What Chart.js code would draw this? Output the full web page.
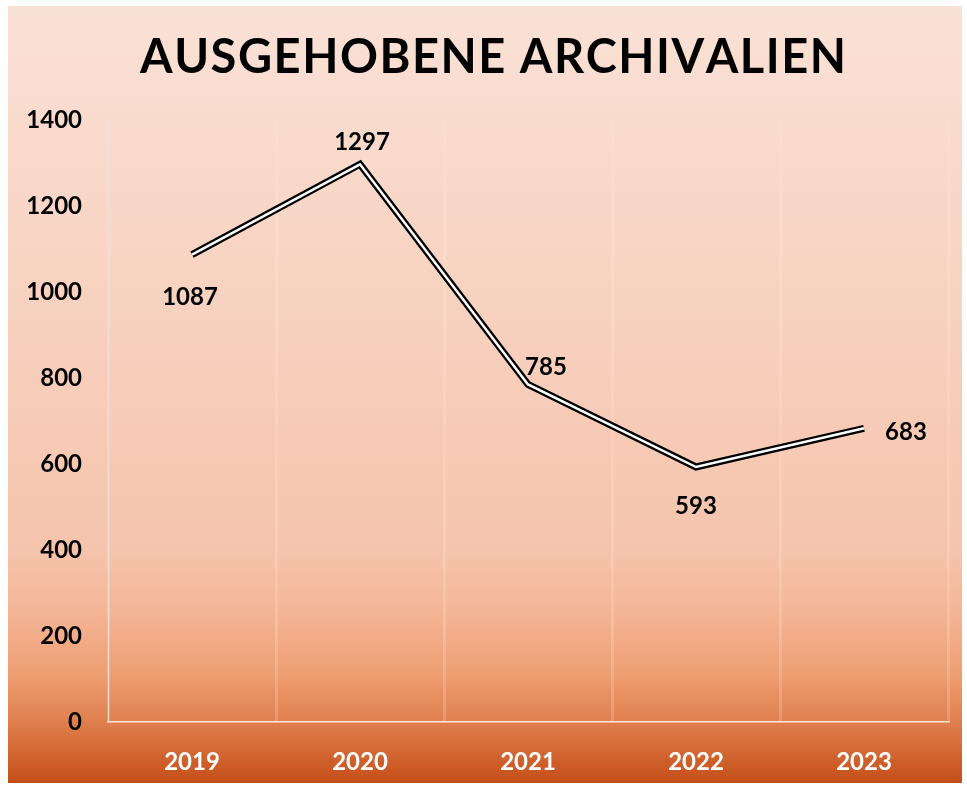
<!DOCTYPE html>
<html>
<head>
<meta charset="utf-8">
<script src="https://cdn.jsdelivr.net/npm/chart.js@4"></script>
<style>
  html, body { margin: 0; padding: 0; background: #ffffff; }
  #wrap { width: 967px; height: 788px; position: relative; }
</style>
</head>
<body>
<div id="wrap"><canvas id="archivChart"></canvas></div>
<script>
// Daten
const years = ['2019', '2020', '2021', '2022', '2023'];
const archivalien = [1087, 1297, 785, 593, 683];
const yTicks = [0, 200, 400, 600, 800, 1000, 1200, 1400];
const chartTitle = 'AUSGEHOBENE ARCHIVALIEN';

// where each value label sits relative to its point
const labelOffsets = [
  { dx: -2, dy: 43 },
  { dx: 2, dy: -22 },
  { dx: 18, dy: -17 },
  { dx: 0, dy: 39 },
  { dx: 42, dy: 4 }
];

const FONT = 'Lato, "Open Sans", sans-serif';

// background gradient card + title
const backgroundPlugin = {
  id: 'cardBackground',
  beforeDraw(chart) {
    const ctx = chart.ctx;
    const top = 6, bottom = 783, left = 8, right = 962;
    const g = ctx.createLinearGradient(0, top, 0, bottom);
    g.addColorStop(0, '#fae1d6');
    g.addColorStop(0.35, '#f8d3c2');
    g.addColorStop(0.7, '#f5c4ac');
    g.addColorStop(0.78, '#f4b596');
    g.addColorStop(0.86, '#ee9e72');
    g.addColorStop(0.92, '#e0804f');
    g.addColorStop(1, '#c54e17');
    ctx.save();
    ctx.fillStyle = g;
    ctx.fillRect(left, top, right - left, bottom - top);

    // title with letter spacing
    ctx.font = 'bold 47px ' + FONT;
    ctx.fillStyle = '#000000';
    ctx.textBaseline = 'middle';
    ctx.textAlign = 'left';
    const target = 702;
    const w = ctx.measureText(chartTitle).width;
    const spacing = Math.max(0, (target - w) / (chartTitle.length - 1));
    let x = 140;
    for (const ch of chartTitle) {
      ctx.fillText(ch, x, 58);
      x += ctx.measureText(ch).width + spacing;
    }
    ctx.restore();
  }
};

// value labels next to the points
const valueLabels = {
  id: 'valueLabels',
  afterDatasetsDraw(chart) {
    const ctx = chart.ctx;
    const meta = chart.getDatasetMeta(0);
    ctx.save();
    ctx.font = 'bold 24px ' + FONT;
    ctx.fillStyle = '#000000';
    ctx.textAlign = 'center';
    ctx.textBaseline = 'middle';
    meta.data.forEach((pt, i) => {
      const off = labelOffsets[i];
      ctx.fillText(String(archivalien[i]), pt.x + off.dx, pt.y + off.dy);
    });
    ctx.restore();
  }
};

const ctx = document.getElementById('archivChart').getContext('2d');
new Chart(ctx, {
  type: 'line',
  data: {
    labels: years,
    datasets: [
      {
        // outer black stroke
        data: archivalien,
        borderColor: '#000000',
        borderWidth: 7,
        borderJoinStyle: 'miter',
        tension: 0,
        pointRadius: 0,
        fill: false,
        order: 2
      },
      {
        // inner white stroke -> double line look
        data: archivalien,
        borderColor: '#ffffff',
        borderWidth: 2.5,
        borderJoinStyle: 'miter',
        tension: 0,
        pointRadius: 0,
        fill: false,
        order: 1
      }
    ]
  },
  options: {
    responsive: true,
    maintainAspectRatio: false,
    animation: false,
    layout: { padding: { top: 120, right: 19, bottom: 0, left: 0 } },
    plugins: {
      legend: { display: false },
      title: { display: false },
      tooltip: { enabled: false }
    },
    scales: {
      x: {
        offset: true,
        grid: {
          offset: true,
          color: 'rgba(255,235,225,0.22)',
          lineWidth: 3,
          drawTicks: false
        },
        border: { color: '#fbe6d8', width: 1.5 },
        ticks: {
          color: '#ffffff',
          font: { family: FONT, size: 24, weight: 'bold' },
          padding: 26
        },
        afterFit(scale) { scale.height = 66; }
      },
      y: {
        min: 0,
        max: 1400,
        afterBuildTicks(scale) { scale.ticks = yTicks.map(v => ({ value: v })); },
        grid: { display: false, drawTicks: false },
        border: { color: '#e9ddd6', width: 1 },
        ticks: {
          color: '#000000',
          font: { family: FONT, size: 24, weight: 'bold' },
          padding: 26,
          callback: (v) => String(v)
        },
        afterFit(scale) { scale.width = 108; }
      }
    }
  },
  plugins: [backgroundPlugin, valueLabels]
});
</script>
</body>
</html>
